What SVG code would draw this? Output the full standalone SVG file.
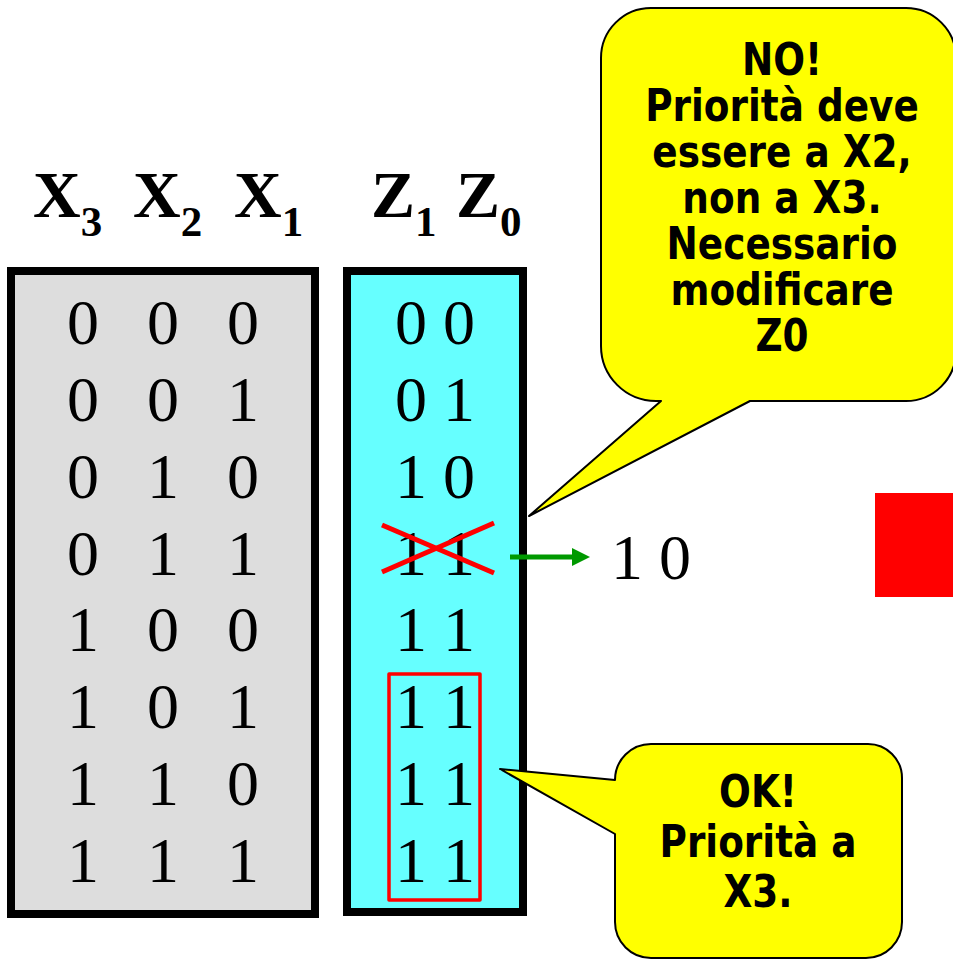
<svg xmlns="http://www.w3.org/2000/svg" width="953" height="960" viewBox="0 0 953 960">
  <style>
    .hdr { font-family: "Liberation Serif", "Times New Roman", serif; font-weight: bold; font-size: 66px; fill: #000; }
    .sub { font-size: 43px; }
    .bit { font-family: "Liberation Serif", "Times New Roman", serif; font-size: 64px; fill: #000; text-anchor: middle; }
    .panel { stroke: #000; stroke-width: 8; }
    .callout { fill: #ffff00; stroke: #000; stroke-width: 2; stroke-linejoin: round; }
    .note { font-family: "DejaVu Sans", Verdana, sans-serif; font-weight: bold; font-size: 44px; fill: #000; text-anchor: middle; }
  </style>

  <rect width="953" height="960" fill="#ffffff"/>

  <!-- column headings -->
  <g id="headings">
    <text class="hdr" x="33" y="217">X<tspan class="sub" dy="19">3</tspan></text>
    <text class="hdr" x="133" y="217">X<tspan class="sub" dy="19">2</tspan></text>
    <text class="hdr" x="234" y="217">X<tspan class="sub" dy="19">1</tspan></text>
    <text class="hdr" x="371" y="217">Z<tspan class="sub" dy="19">1</tspan></text>
    <text class="hdr" x="456" y="217">Z<tspan class="sub" dy="19">0</tspan></text>
  </g>

  <!-- input combinations -->
  <g id="inputs">
    <rect class="panel" x="11" y="271" width="304" height="643" fill="#dddddd"/>
    <text class="bit" x="83 163 243" y="344">000</text>
    <text class="bit" x="83 163 243" y="421">001</text>
    <text class="bit" x="83 163 243" y="498">010</text>
    <text class="bit" x="83 163 243" y="575">011</text>
    <text class="bit" x="83 163 243" y="651">100</text>
    <text class="bit" x="83 163 243" y="728">101</text>
    <text class="bit" x="83 163 243" y="805">110</text>
    <text class="bit" x="83 163 243" y="882">111</text>
  </g>

  <!-- encoder outputs -->
  <g id="outputs">
    <rect class="panel" x="347" y="271" width="176" height="641" fill="#66ffff"/>
    <text class="bit" x="435" y="344">0 0</text>
    <text class="bit" x="435" y="421">0 1</text>
    <text class="bit" x="435" y="498">1 0</text>
    <text class="bit" x="435" y="575">1 1</text>
    <text class="bit" x="435" y="651">1 1</text>
    <text class="bit" x="435" y="728">1 1</text>
    <text class="bit" x="435" y="805">1 1</text>
    <text class="bit" x="435" y="882">1 1</text>
  </g>

  <!-- highlighted rows with X3 = 1 -->
  <g id="highlight">
    <rect x="389" y="674" width="91" height="226" fill="none" stroke="#ff0000" stroke-width="3.5" stroke-linejoin="round"/>
  </g>

  <!-- struck-out value and its correction -->
  <g id="strike">
    <line x1="382" y1="525" x2="494" y2="573" stroke="#ff0000" stroke-width="5"/>
    <line x1="382" y1="572" x2="494" y2="523" stroke="#ff0000" stroke-width="5"/>
  </g>

  <g id="connectors">
    <line x1="510" y1="557" x2="574" y2="557" stroke="#009900" stroke-width="5"/>
    <polygon points="572,548 590,557 572,566" fill="#009900"/>
  </g>

  <g id="corrected">
    <text class="bit" x="651" y="579">1 0</text>
  </g>

  <g id="marker">
    <rect x="875" y="493" width="78" height="104" fill="#ff0000"/>
  </g>

  <!-- speech bubble: wrong priority -->
  <g id="note-no">
    <path class="callout" d="M 656,8 H 906 A 50 50 0 0 1 956,58 V 351 A 50 50 0 0 1 906,401 H 750 L 529,516 L 661,401 H 656 A 55 55 0 0 1 601,346 V 58 A 50 50 0 0 1 651,8 Z"/>
    <g transform="translate(782,0) scale(0.85,1)">
      <text class="note" x="0" y="75.5">NO!</text>
      <text class="note" x="0" y="121.5">Priorità deve</text>
      <text class="note" x="0" y="167.5">essere a X2,</text>
      <text class="note" x="0" y="213.5">non a X3.</text>
      <text class="note" x="0" y="259.5">Necessario</text>
      <text class="note" x="0" y="305.5">modificare</text>
      <text class="note" x="0" y="351.5">Z0</text>
    </g>
  </g>

  <!-- speech bubble: correct priority -->
  <g id="note-ok">
    <path class="callout" d="M 651,744 H 868 A 34 34 0 0 1 902,778 V 922 A 36 36 0 0 1 866,958 H 651 A 36 36 0 0 1 615,922 V 834 L 500,769 L 615,780 A 36 36 0 0 1 651,744 Z"/>
    <g transform="translate(758,0) scale(0.85,1)">
      <text class="note" x="0" y="807.5">OK!</text>
      <text class="note" x="0" y="857.5">Priorità a</text>
      <text class="note" x="0" y="907.5">X3.</text>
    </g>
  </g>
</svg>
